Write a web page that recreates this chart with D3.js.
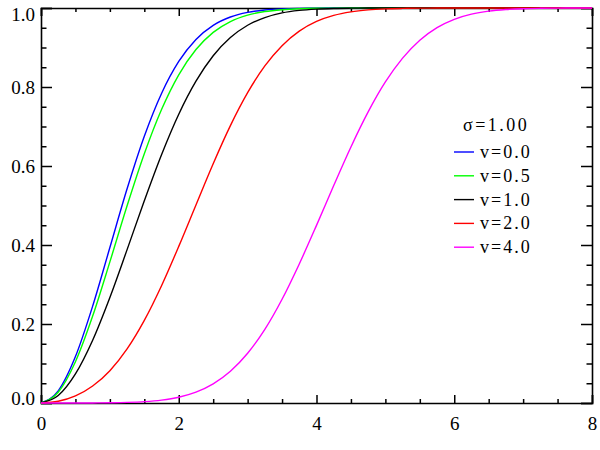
<!DOCTYPE html>
<html>
<head>
<meta charset="utf-8">
<script src="https://cdn.jsdelivr.net/npm/d3@7"></script>
<style>
  body { margin: 0; background: #fff; }
  svg { display: block; }
  .domain { stroke: #000; stroke-width: 1.6; }
  .tick line { stroke: #000; stroke-width: 1.5; }
</style>
</head>
<body>
<svg id="chart" width="600" height="450"></svg>
<script>
const serif = "'Liberation Serif', 'Times New Roman', serif";

// sample points along x
const xs = [0, 0.25, 0.5, 0.75, 1, 1.25, 1.5, 1.75, 2, 2.25, 2.5, 2.75, 3, 3.25, 3.5, 3.75,
            4, 4.25, 4.5, 4.75, 5, 5.25, 5.5, 5.75, 6, 6.25, 6.5, 6.75, 7, 7.25, 7.5, 7.75, 8];

// cdf values, one array per v
const cdfV00 = [0, 0.0308, 0.1175, 0.2452, 0.3935, 0.5422, 0.6753, 0.7837, 0.8647, 0.9204, 0.9561, 0.9772,
                0.9889, 0.9949, 0.9978, 0.9991, 0.9997, 0.9999, 1, 1, 1, 1, 1, 1, 1, 1, 1, 1, 1, 1, 1, 1, 1];
const cdfV05 = [0, 0.0272, 0.1045, 0.2200, 0.3573, 0.4992, 0.6309, 0.7429, 0.8309, 0.8948, 0.9383, 0.9657,
                0.9820, 0.9910, 0.9957, 0.9982, 0.9993, 0.9998, 1, 1, 1, 1, 1, 1, 1, 1, 1, 1, 1, 1, 1, 1, 1];
const cdfV10 = [0, 0.0188, 0.0735, 0.1589, 0.2671, 0.3883, 0.5119, 0.6285, 0.7310, 0.8147, 0.8791, 0.9252,
                0.9563, 0.9758, 0.9875, 0.9939, 0.9972, 0.9989, 0.9996, 0.9999, 1, 1, 1, 1, 1, 1, 1, 1, 1, 1, 1, 1, 1];
const cdfV20 = [0, 0.0043, 0.0179, 0.0429, 0.0819, 0.1370, 0.2092, 0.2970, 0.3965, 0.5015, 0.6058, 0.7022,
                0.7856, 0.8534, 0.9047, 0.9414, 0.9659, 0.9812, 0.9902, 0.9952, 0.9978, 0.9990, 0.9996, 0.9999,
                1, 1, 1, 1, 1, 1, 1, 1, 1];
const cdfV40 = [0, 0, 0, 0.0001, 0.0006, 0.0015, 0.0034, 0.0073, 0.0147, 0.0275, 0.0484, 0.0802,
                0.1258, 0.1864, 0.2626, 0.3520, 0.4497, 0.5506, 0.6483, 0.7370, 0.8127, 0.8731, 0.9185, 0.9504,
                0.9714, 0.9844, 0.9920, 0.9961, 0.9982, 0.9992, 0.9997, 0.9999, 1];

const seriesLabels = ["v=0.0", "v=0.5", "v=1.0", "v=2.0", "v=4.0"];
const seriesColors = ["#0000ff", "#00ff00", "#000000", "#ff0000", "#ff00ff"];
const seriesValues = [cdfV00, cdfV05, cdfV10, cdfV20, cdfV40];
const legendTitle = "\u03c3=1.00";

const xMajor = [0, 2, 4, 6, 8];
const yMajor = [0, 0.2, 0.4, 0.6, 0.8, 1.0];

const svg = d3.select("#chart");
const margin = {left: 41, right: 8, top: 8, bottom: 47};
const width = 600 - margin.left - margin.right;
const height = 450 - margin.top - margin.bottom;

const x = d3.scaleLinear().domain([0, 8]).range([0, width]);
const y = d3.scaleLinear().domain([0, 1]).range([height, 0]);

const g = svg.append("g").attr("transform", `translate(${margin.left},${margin.top})`);

const xMinor = d3.range(0, 8.001, 0.5).filter(d => d % 2 !== 0);
const yMinor = d3.range(0, 1.0001, 0.05).filter(d => Math.round(d * 100) % 20 !== 0);

// bottom axis
g.append("g")
    .attr("transform", `translate(0,${height})`)
    .call(d3.axisBottom(x).tickValues(xMajor).tickSize(-8).tickPadding(14).tickFormat(d3.format("d")))
    .call(a => a.selectAll("text").style("font-size", "19px").style("font-family", serif).attr("fill", "#000"));
g.append("g")
    .attr("transform", `translate(0,${height})`)
    .call(d3.axisBottom(x).tickValues(xMinor).tickSize(-4).tickFormat(""))
    .call(a => a.select(".domain").remove());

// top axis
g.append("g")
    .call(d3.axisTop(x).tickValues(xMajor).tickSize(-8).tickFormat(""));
g.append("g")
    .call(d3.axisTop(x).tickValues(xMinor).tickSize(-4).tickFormat(""))
    .call(a => a.select(".domain").remove());

// left axis, end labels pulled inside the axis range
g.append("g")
    .call(d3.axisLeft(y).tickValues(yMajor).tickSize(-11).tickPadding(6).tickFormat(d3.format(".1f")))
    .call(a => a.selectAll("text")
        .style("font-size", "19px").style("font-family", serif).attr("fill", "#000")
        .attr("dy", d => d === 1 ? "0.68em" : d === 0 ? "0.08em" : "0.32em"));
g.append("g")
    .call(d3.axisLeft(y).tickValues(yMinor).tickSize(-5.5).tickFormat(""))
    .call(a => a.select(".domain").remove());

// right axis
g.append("g")
    .attr("transform", `translate(${width},0)`)
    .call(d3.axisRight(y).tickValues(yMajor).tickSize(-11).tickFormat(""));
g.append("g")
    .attr("transform", `translate(${width},0)`)
    .call(d3.axisRight(y).tickValues(yMinor).tickSize(-5.5).tickFormat(""))
    .call(a => a.select(".domain").remove());

const line = d3.line()
    .x((d, i) => x(xs[i]))
    .y(d => y(d))
    .curve(d3.curveMonotoneX);

g.selectAll("path.curve")
    .data(seriesValues)
    .join("path")
    .attr("class", "curve")
    .attr("fill", "none")
    .attr("stroke", (d, i) => seriesColors[i])
    .attr("stroke-width", 1.4)
    .attr("d", line);

// legend
const legend = svg.append("g");
legend.append("text")
    .attr("x", 463)
    .attr("y", 131)
    .style("font-family", serif)
    .style("font-size", "18px")
    .style("letter-spacing", "2.5px")
    .text(legendTitle);

const items = legend.selectAll("g.item")
    .data(seriesLabels)
    .join("g")
    .attr("class", "item")
    .attr("transform", (d, i) => `translate(0,${152 + i * 23.8})`);

items.append("line")
    .attr("x1", 454).attr("x2", 474)
    .attr("stroke", (d, i) => seriesColors[i])
    .attr("stroke-width", 1.4);

items.append("text")
    .attr("x", 480)
    .attr("y", 6)
    .style("font-family", serif)
    .style("font-size", "18px")
    .style("letter-spacing", "2px")
    .text(d => d);
</script>
</body>
</html>
